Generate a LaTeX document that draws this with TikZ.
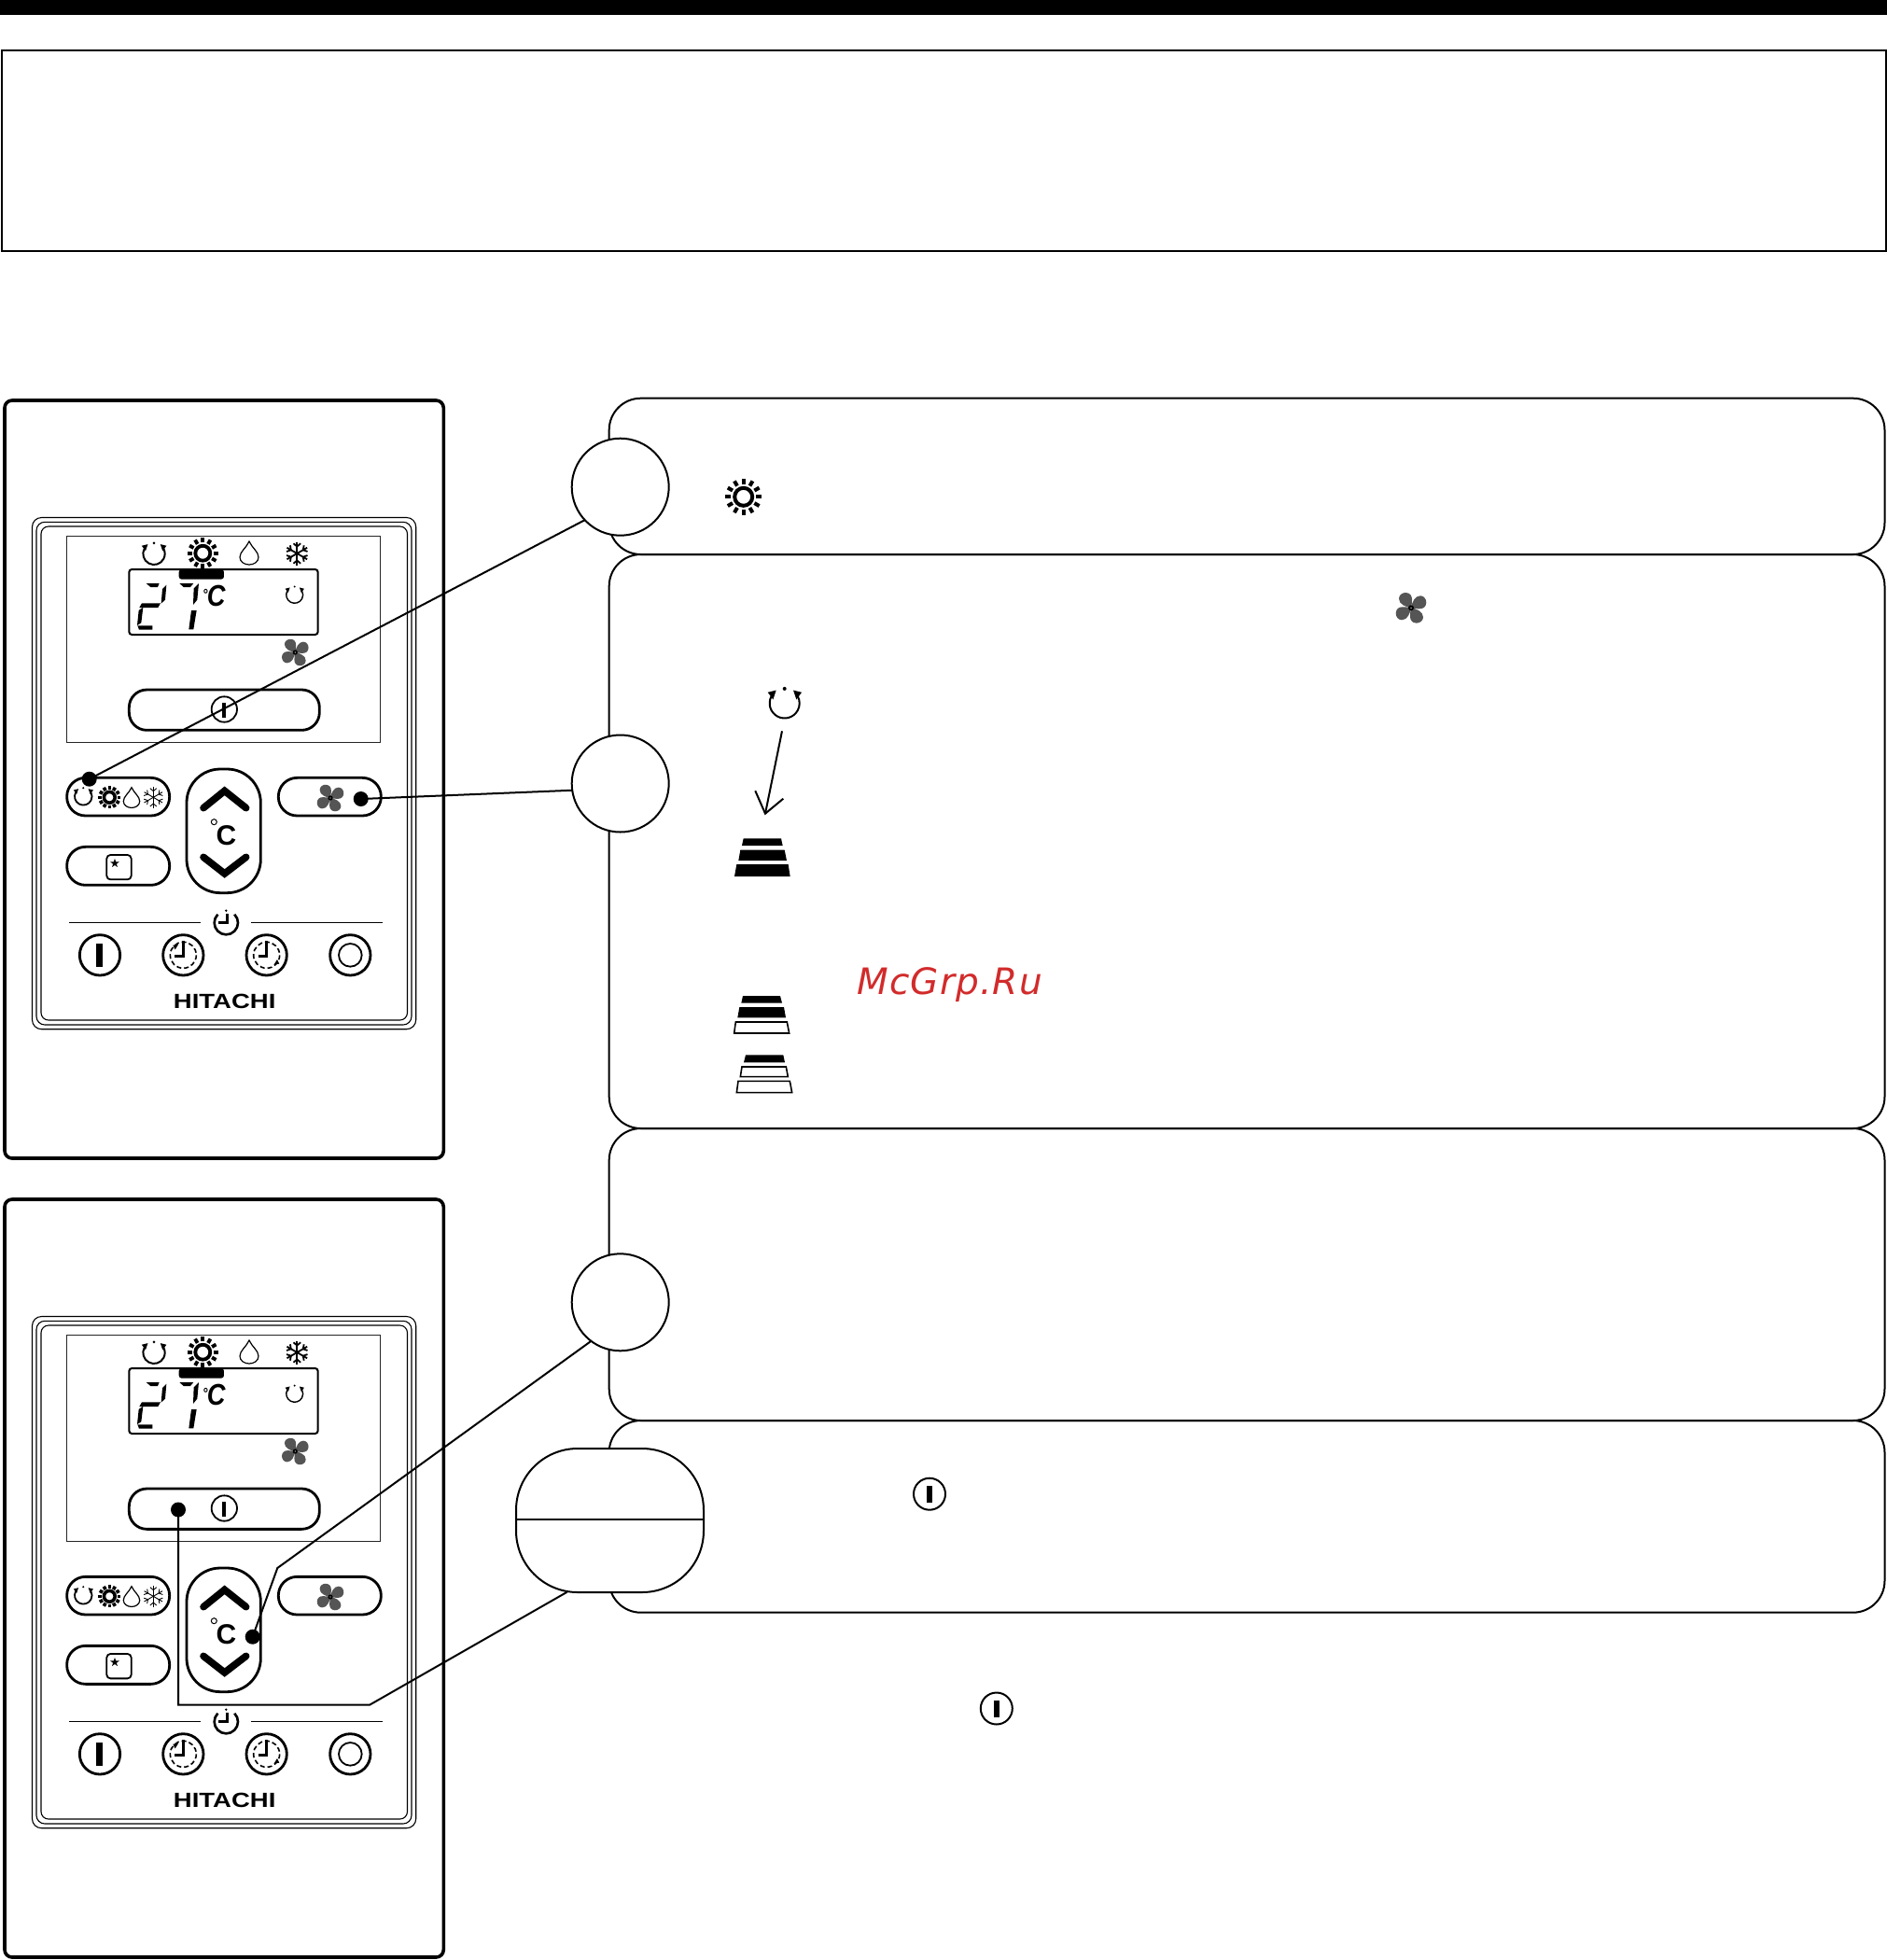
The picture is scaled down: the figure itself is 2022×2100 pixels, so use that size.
\documentclass[tikz,border=0pt]{standalone}
\usepackage{fontspec}
\setmainfont{Liberation Sans}
\newfontfamily\wmfont{DejaVu Sans}
\definecolor{fangray}{HTML}{555555}
\definecolor{wmred}{HTML}{D22B2B}
\tikzset{
  linew/.style={line width=1pt,draw=black},
  panelframe/.style={line width=1.8pt,draw=black,rounded corners=4pt},
  bezel/.style={line width=.55pt,draw=black},
  btn/.style={line width=1.4pt,draw=black},
  callout/.style={circle,draw=black,fill=white,line width=1pt,minimum size=52pt,inner sep=0pt,outer sep=0pt},
  splitpill/.style={rectangle,rounded corners=33pt,draw=black,fill=white,line width=1pt,minimum width=100.5pt,minimum height=77pt,inner sep=0pt,outer sep=0pt},
  dotmark/.style={circle,fill=black,minimum size=8pt,inner sep=0pt,outer sep=0pt},
  infobox/.style={line width=1pt,draw=black,rounded corners=17pt},
}
% icons: x, y, scale, line width
\newcommand\iconsun[4]{\begin{scope}[shift={(#1,#2)},scale=#3]
  \draw[line width=#4] (0,0) circle (9.5);
  \foreach \a in {0,30,...,330} \draw[line width=#4] (\a:13.5) -- (\a:19.5);
\end{scope}}
\newcommand\iconrot[4]{\begin{scope}[shift={(#1,#2)},scale=#3]
  \draw[line width=#4] (208:16) arc[start angle=208,end angle=-28,radius=16];
  \fill (-18,-11.7) -- (-9,-14) -- (-12.3,-4) -- cycle;
  \fill (18.3,-11.7) -- (9.3,-14) -- (12.7,-4) -- cycle;
  \fill (0,-15.6) circle (2);
\end{scope}}
\newcommand\icondrop[4]{\begin{scope}[shift={(#1,#2)},scale=#3]
  \draw[line width=#4] (0,-13) .. controls (3,-6) and (10,-2) .. (10,4) .. controls (10,9) and (5,12) .. (0,12) .. controls (-5,12) and (-10,9) .. (-10,4) .. controls (-10,-2) and (-3,-6) .. (0,-13) -- cycle;
\end{scope}}
\newcommand\iconflake[4]{\begin{scope}[shift={(#1,#2)},scale=#3]
  \foreach \a in {30,90,...,330} {
    \draw[line width=#4] (0,0) -- (\a:12.5);
    \draw[line width=#4] (\a:7.5) -- ++(\a+50:5);
    \draw[line width=#4] (\a:7.5) -- ++(\a-50:5);
  }
\end{scope}}
\newcommand\iconfan[3]{\begin{scope}[shift={(#1,#2)},scale=#3]
  \foreach \a in {0,90,180,270} {
    \fill[fangray,rotate=\a] (0,0) .. controls (-6,-1) and (-13,-4) .. (-13,-10) .. controls (-13,-14) and (-9,-16.5) .. (-5.5,-16.3) .. controls (-1,-16) and (1,-13) .. (1,-9) .. controls (1,-5) and (0.5,-2) .. (0,0) -- cycle;
  }
  \fill (0,0) circle (3);
  \fill[white] (0,0) circle (0.7);
\end{scope}}
\newcommand\iconpower[3]{\begin{scope}[shift={(#1,#2)},scale=#3]
  \draw[line width=1pt,fill=white] (0,0) circle (17);
  \fill (-2.7,-9) rectangle (2.7,9);
\end{scope}}
% remote: y offset, name prefix
\newcommand\drawremote[2]{\begin{scope}[shift={(0,#1)}]
  \draw[panelframe] (5,429) rectangle (475.3,1241);
  \draw[bezel,rounded corners=5pt] (34.5,554.5) rectangle (445.7,1102.7);
  \draw[bezel,rounded corners=4.5pt] (39,559.3) rectangle (441,1098);
  \draw[bezel,rounded corners=4pt] (44,564) rectangle (436.5,1093);
  \draw[line width=.5pt,draw=black!85] (71,574) rectangle (407.7,795.7);
  \iconrot{165}{593.3}{0.73}{1pt}
  \iconsun{217.3}{592.7}{0.84}{1.9pt}
  \icondrop{267}{593}{1}{.6pt}
  \iconflake{318.3}{593}{1}{.9pt}
  \iconrot{315.7}{637.3}{0.56}{.7pt}
  \iconfan{316.3}{699}{0.875}
  \iconrot{89.3}{853.3}{0.58}{.9pt}
  \iconsun{117.3}{854.3}{0.62}{1.8pt}
  \icondrop{141}{855}{0.87}{.6pt}
  \iconflake{164.3}{854.3}{0.9}{.45pt}
  \iconfan{354}{855}{0.875}
  \begin{scope}[shift={(0,530)},scale=0.33333]
    \draw[line width=1pt,rounded corners=1.5pt] (415,240) rectangle (1022,450);
    \fill[rounded corners=1.5pt] (575,240) -- (720,240) -- (720,272) -- (575,272) -- cycle;
    % seven-segment digits
    \fill (470,285) -- (512,285) -- (507,297) -- (484,297) -- cycle;
    \fill (522,303) -- (535,290) -- (531,338) -- (518,350) -- cycle;
    \fill (456,349) -- (516,349) -- (508,363) -- (448,363) -- cycle;
    \fill (446,372) -- (460,362) -- (454,412) -- (441,420) -- cycle;
    \fill (442,421) -- (490,421) -- (490,434) -- (447,434) -- cycle;
    \fill (577,285) -- (622,285) -- (612,297) -- (590,297) -- cycle;
    \fill (623,301) -- (639,285) -- (634,338) -- (621,354) -- cycle;
    \fill (615,372) -- (632,372) -- (622,433) -- (607,433) -- cycle;
    \node[inner sep=0pt] (#2deg) at (688,326) {\scalebox{.85}[1]{\fontsize{16}{16}\selectfont\bfseries\itshape\raisebox{3.6pt}{\fontsize{8}{8}\selectfont °}\kern-.5pt C}};
    % main wide button
    \draw[btn,rounded corners=9.5pt] (415,627) rectangle (1027,757);
    \draw[line width=.9pt] (721,690) circle (41);
    \fill (715,668) rectangle (727,716);
  \end{scope}
  \begin{scope}[shift={(0,800)},scale=0.33333]
    \draw[btn,rounded corners=10pt] (215,100) rectangle (545,222);
    \draw[btn,rounded corners=10pt] (895,100) rectangle (1225,222);
    \draw[btn,rounded corners=10pt] (215,322) rectangle (545,445);
    \draw[line width=.9pt,rounded corners=2pt] (343,348) rectangle (422,427);
    \fill (369,360) -- (372.5,370.1) -- (383.3,370.4) -- (374.7,376.9) -- (377.8,387.1) -- (369,381) -- (360.2,387.1) -- (363.3,376.9) -- (354.7,370.4) -- (365.5,370.1) -- cycle;
    \draw[btn,rounded corners=18pt] (600,72) rectangle (838,470);
    \draw[line width=3.8pt,line cap=round,line join=miter] (654,197) -- (722,142) -- (791,197);
    \draw[line width=3.8pt,line cap=round,line join=miter] (654,355) -- (722,408) -- (791,355);
    \node[inner sep=0pt] (#2cel) at (727,285) {\fontsize{15}{15}\selectfont\bfseries C};
    \draw[line width=.5pt] (688,242) circle (9);
    \draw[line width=.7pt] (222,565) -- (645,565);
    \draw[line width=.7pt] (807,565) -- (1230,565);
    % timer mark
    \draw[line width=1.3pt] (225:38) ++(727,566) arc[start angle=225,end angle=-45,radius=38];
    \draw[line width=1.3pt] (703,566) -- (730,566) -- (730,536);
    \fill (727,527) circle (4);
    % bottom row
    \draw[btn] (321,670) circle (65);
    \fill (310,632) rectangle (330,708);
    \draw[btn] (589,670) circle (65);
    \draw[line width=.8pt,dashed,dash pattern=on 2.5pt off 1.5pt] (589,670) circle (42);
    \draw[line width=1.2pt] (562,674) -- (589,674) -- (589,625);
    \fill (556,638) -- (573,636) -- (563,652) -- cycle;
    \draw[btn] (857,670) circle (65);
    \draw[line width=.8pt,dashed,dash pattern=on 2.5pt off 1.5pt] (857,670) circle (42);
    \draw[line width=1.2pt] (830,674) -- (857,674) -- (857,625);
    \fill (898,698) -- (881,700) -- (891,684) -- cycle;
    \draw[btn] (1126,670) circle (65);
    \draw[line width=.9pt] (1126,670) circle (37);
    \node[inner sep=0pt] (#2brand) at (722,820) {\scalebox{1.25}[1]{\fontsize{11}{11}\selectfont\bfseries HITACHI}};
  \end{scope}
\end{scope}}
\begin{document}
\begin{tikzpicture}[x=.5pt,y=-.5pt]
  \useasboundingbox (0,0) rectangle (2022,2100);
  \fill[white] (0,0) rectangle (2022,2100);
  \fill[black] (0,0) rectangle (2022,16);
  \draw[line width=1pt] (2,54) rectangle (2020.5,268.7);
  % info boxes
  \draw[infobox] (652.7,426.7) rectangle (2019.5,594);
  \draw[infobox] (652.7,594) rectangle (2019.5,1209);
  \draw[infobox] (652.7,1209) rectangle (2019.5,1522);
  \draw[infobox] (652.7,1522) rectangle (2019.5,1727.7);
  % remotes
  \drawremote{0}{ra}
  \drawremote{856}{rb}
  % box icons
  \iconsun{796.7}{532.3}{1}{2pt}
  \iconfan{1512}{651.3}{1}
  \iconrot{840.7}{753.5}{1}{1pt}
  \iconpower{996}{1600.7}{1}
  \iconpower{1067.8}{1830.5}{1}
  % fan-speed arrow
  \coordinate (arrowtail) at (838,783.3);
  \coordinate (arrowtip) at (820,871.7);
  \draw[line width=1pt] (arrowtail) -- (arrowtip);
  \draw[line width=1pt] (809.3,847.3) -- (arrowtip) -- (839.3,855.7);
  % fan-speed stacks
  \begin{scope}[shift={(740,700)},scale=0.33333]
    \fill (170,595) -- (291,595) -- (296,618) -- (165,618) -- cycle;
    \fill (160,632) -- (302,632) -- (309,666) -- (154,666) -- cycle;
    \fill (148,678) -- (314,678) -- (320,717) -- (141,717) -- cycle;
  \end{scope}
  \begin{scope}[shift={(760,1040)},scale=0.33333]
    \fill (108,81) -- (228,81) -- (234,104) -- (103,104) -- cycle;
    \fill (97,117) -- (240,117) -- (246,151) -- (91,151) -- cycle;
    \draw[line width=.8pt] (85,165) -- (250,165) -- (257,201) -- (80,201) -- cycle;
    \fill (117,271) -- (238,271) -- (243,295) -- (111,295) -- cycle;
    \draw[line width=.8pt] (105,309) -- (247,309) -- (253,341) -- (100,341) -- cycle;
    \draw[line width=.8pt] (93,355) -- (259,355) -- (266,392) -- (88,392) -- cycle;
  \end{scope}
  \node[anchor=base west,inner sep=0pt,text=wmred] (watermark) at (918,1065) {\wmfont\itshape\fontsize{19.5}{19.5}\selectfont\addfontfeature{LetterSpace=3}McGrp.Ru};
  % callouts
  \node[callout] (c1) at (664.7,521.7) {};
  \node[callout] (c2) at (664.7,839.5) {};
  \node[callout] (c3) at (664.7,1395.3) {};
  \node[splitpill] (pill) at (653.5,1629) {};
  \draw[line width=1pt] ([yshift=.65pt]pill.west) -- ([yshift=.65pt]pill.east);
  % marker dots and leaders
  \node[dotmark] (d1) at (95.7,834.7) {};
  \node[dotmark] (d2) at (386.7,856) {};
  \node[dotmark] (d3) at (270.7,1753.7) {};
  \node[dotmark] (d4) at (191,1617.5) {};
  \coordinate (k3) at (297.3,1680);
  \coordinate (k4a) at (191,1826.7);
  \coordinate (k4b) at (396,1826.7);
  \coordinate (pillend) at (607.7,1705.7);
  \draw[linew] (d1.center) -- (c1.223);
  \draw[linew] (d2.center) -- (c2.188);
  \draw[linew] (d3.center) -- (k3) -- (c3.233);
  \draw[linew] (d4.center) -- (k4a) -- (k4b) -- (pillend);
\end{tikzpicture}
\end{document}
